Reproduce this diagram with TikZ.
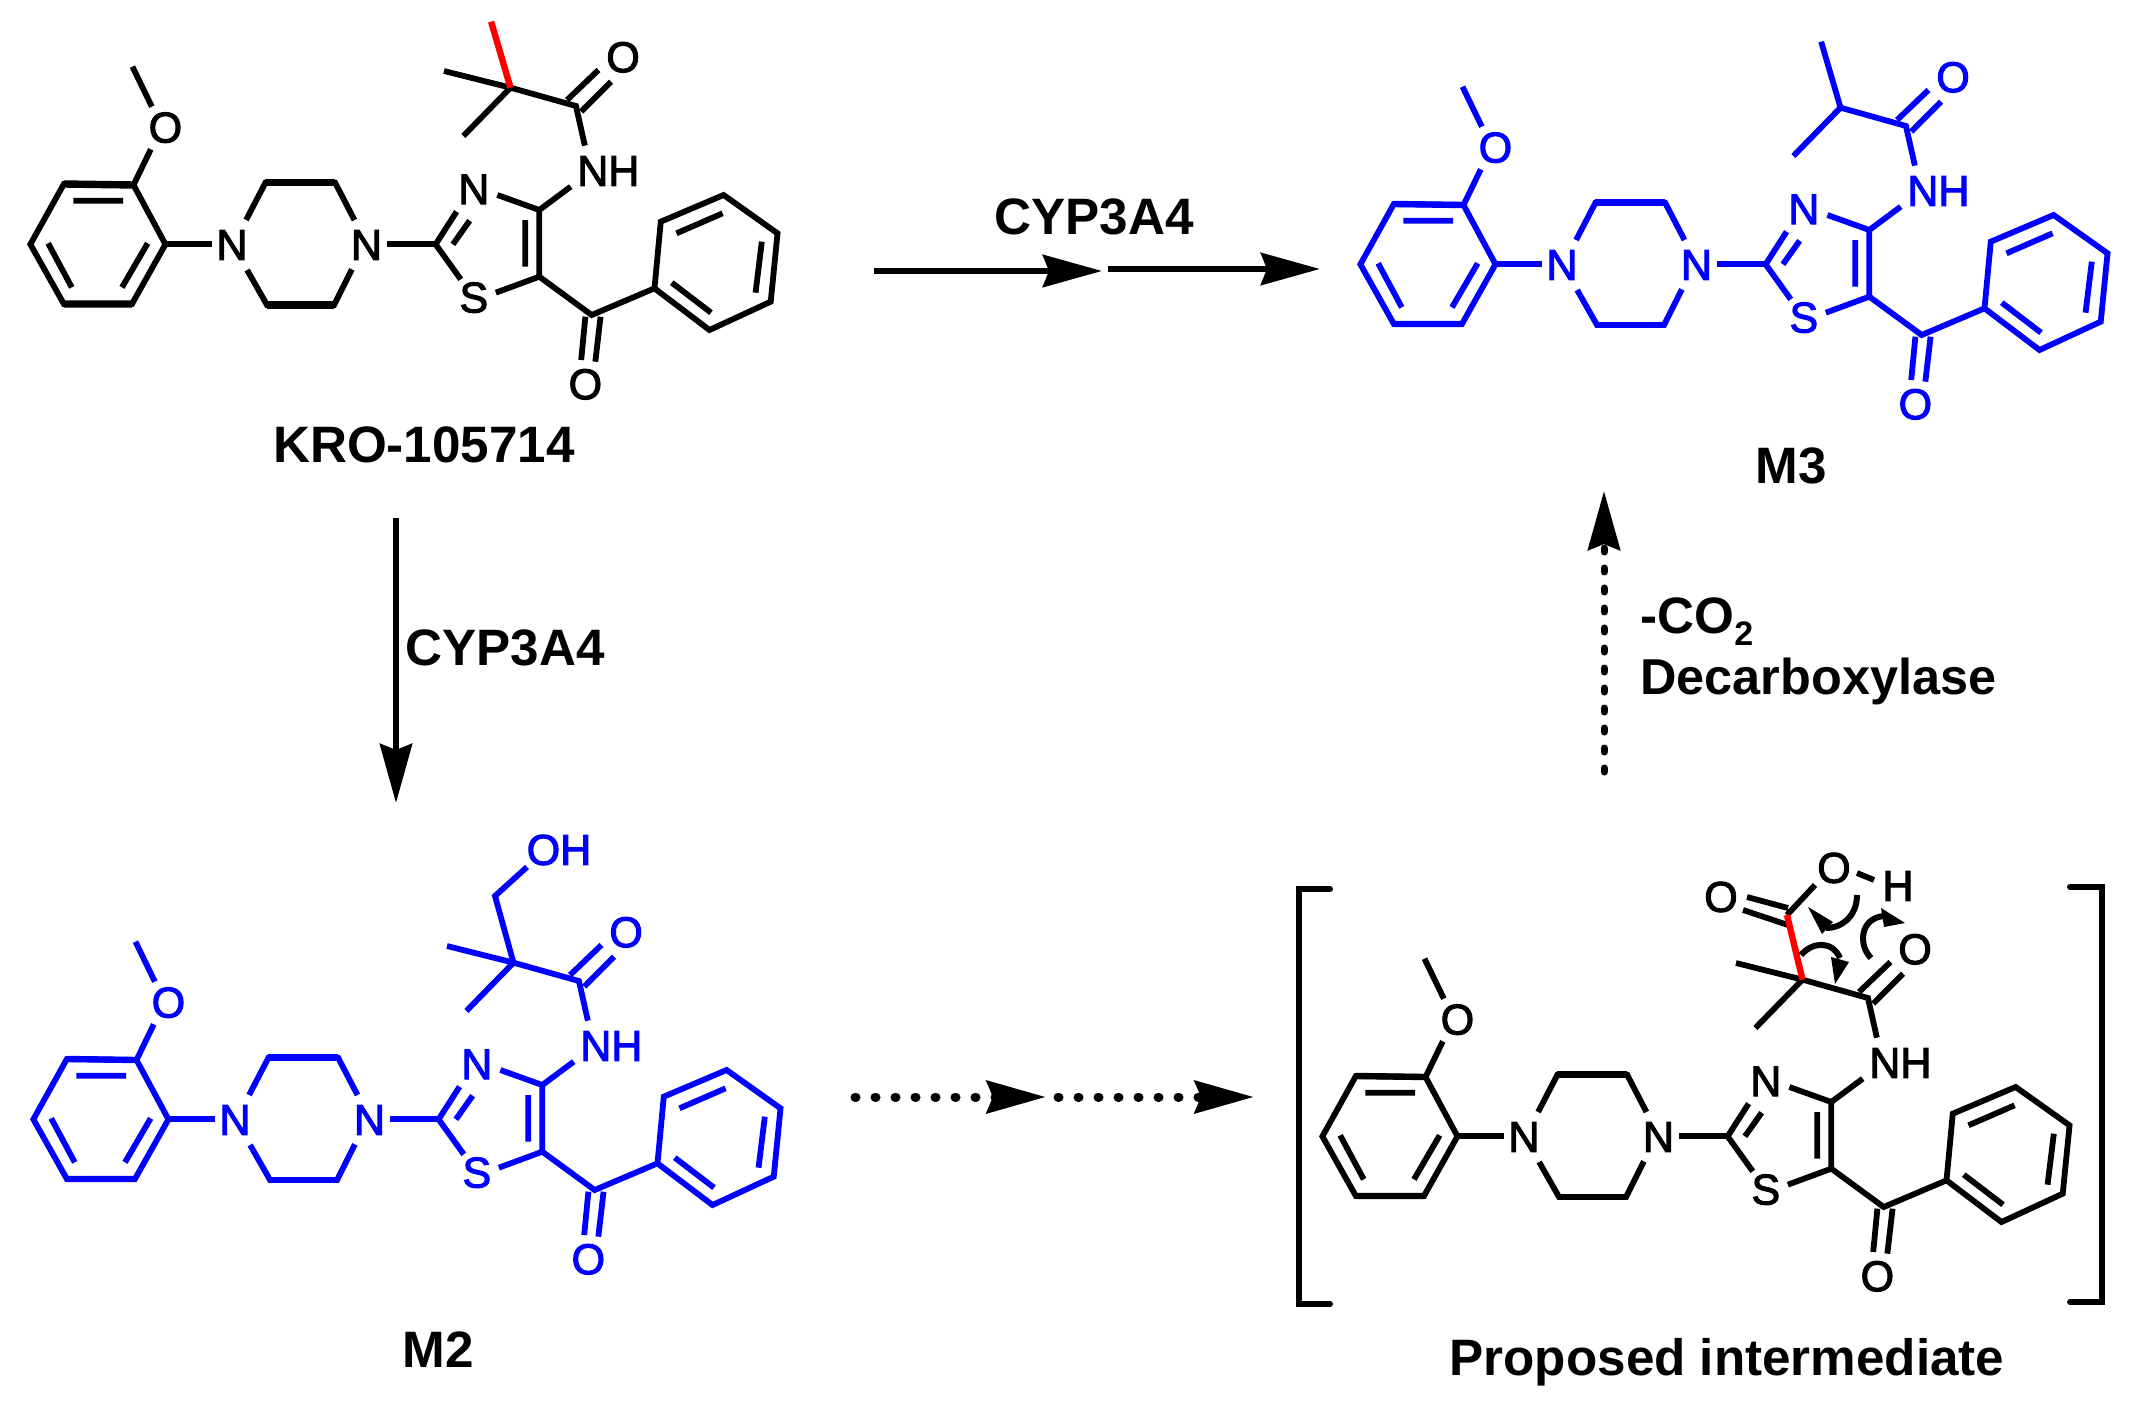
\documentclass[tikz,border=0pt]{standalone}
\usepackage{fontspec}
\setmainfont{Liberation Sans}
\newfontfamily\atomfont[FakeBold=2.5]{Liberation Sans}
\usetikzlibrary{arrows.meta}
\definecolor{molblue}{RGB}{0,0,255}
\definecolor{molred}{RGB}{255,0,0}
\tikzset{
  bond/.style={line width=2.9pt,line cap=butt,line join=miter},
  hbond/.style={line width=3.2pt},
  redbond/.style={line width=3.2pt,draw=molred},
  atom/.style={inner sep=0pt,font=\atomfont\fontsize{21.5}{21.5}\selectfont},
  lbl/.style={inner sep=0pt,anchor=base,font=\bfseries\fontsize{25.6}{25.6}\selectfont},
  rxn/.style={line width=3.3pt,-{Stealth[length=29.5pt,width=16pt,inset=3pt]}},
  dotrxn/.style={line width=4.5pt,line cap=round,dash pattern=on 0.5pt off 9.5pt,-{Stealth[length=29.5pt,width=16pt,inset=3pt]}},
  vdotrxn/.style={line width=3.5pt,line cap=round,dash pattern=on 2pt off 8pt,-{Stealth[length=29.5pt,width=16pt,inset=3pt]}},
  brk/.style={line width=3pt,line cap=round,line join=miter},
  curly/.style={line width=3pt,line cap=butt},
  coreunits/.style={x=0.2618pt,y=-0.16667pt}
}
\newcommand{\coremol}{%
  \path (253,200) coordinate (Me) (290,320) coordinate (Oa) (288,448) coordinate (Ob)
   (255,555) coordinate (A1) (122,552) coordinate (A2) (58,733) coordinate (A3)
   (122,912) coordinate (A4) (252,912) coordinate (A5) (316,733) coordinate (A6)
   (140,602) coordinate (Ia) (235,602) coordinate (Ib) (92,730) coordinate (Ic)
   (137,862) coordinate (Id) (282,730) coordinate (Ie) (233,862) coordinate (If)
   (405,733) coordinate (Na1) (470,660) coordinate (Nb) (507,548) coordinate (P1)
   (640,548) coordinate (P2) (677,660) coordinate (Nc) (672,808) coordinate (Nd)
   (638,915) coordinate (P3) (510,915) coordinate (P4) (472,810) coordinate (Ne)
   (740,733) coordinate (Nf) (832,733) coordinate (T2) (872,635) coordinate (Ta)
   (865,733) coordinate (Tg) (897,662) coordinate (Th) (880,838) coordinate (Sa)
   (950,585) coordinate (Tb) (1030,630) coordinate (T4) (1030,830) coordinate (T5)
   (947,878) coordinate (Sb) (1003,660) coordinate (Tc) (1003,800) coordinate (Td)
   (1090,560) coordinate (NHa) (1117,437) coordinate (NHb) (1100,318) coordinate (Cam)
   (975,263) coordinate (Cq) (885,408) coordinate (Mlow) (848,213) coordinate (Mleft)
   (938,65) coordinate (Mtop)
   (1083,300) coordinate (Da) (1143,210) coordinate (Db) (1110,335) coordinate (Dc) (1167,245) coordinate (Dd)
   (1130,945) coordinate (K) (1118,950) coordinate (Ka) (1110,1080) coordinate (Kb)
   (1147,950) coordinate (Kc) (1137,1085) coordinate (Kd)
   (1250,865) coordinate (B1) (1262,665) coordinate (B2) (1382,585) coordinate (B3)
   (1485,700) coordinate (B4) (1472,905) coordinate (B5) (1355,990) coordinate (B6)
   (1292,700) coordinate (Ig) (1380,640) coordinate (Ih) (1455,725) coordinate (Ii)
   (1443,878) coordinate (Ij) (1358,938) coordinate (Ik) (1283,848) coordinate (Il);
  \node[atom] (O1) at (316,383) {O};
  \node[atom] (Na) at (443,735) {N};
  \node[atom] (Nz) at (700,735) {N};
  \node[atom] (N3) at (905,568) {N};
  \node[atom] (S1) at (905,893) {S};
  \node[atom] (NH) at (1162,513) {NH};
  \node[atom] (O2) at (1190,172) {O};
  \node[atom] (O3) at (1118,1153) {O};
  \draw[bond] (Me)--(Oa) (Ob)--(A1);
  \draw[bond] (A1)--(A2)--(A3)--(A4)--(A5)--(A6)--cycle;
  \draw[bond,hbond] (A1)--(A2) (A4)--(A5);
  \draw[bond] (Ia)--(Ib) (Ic)--(Id) (Ie)--(If);
  \draw[bond] (A6)--(Na1);
  \draw[bond] (Nb)--(P1)--(P2)--(Nc) (Nd)--(P3)--(P4)--(Ne);
  \draw[bond,hbond] (P1)--(P2) (P3)--(P4);
  \draw[bond] (Nf)--(T2);
  \draw[bond] (Sa)--(T2)--(Ta) (Tg)--(Th);
  \draw[bond] (Tb)--(T4)--(T5)--(Sb) (Tc)--(Td);
  \draw[bond] (T4)--(NHa) (NHb)--(Cam)--(Cq)--(Mlow);
  \draw[bond] (Da)--(Db) (Dc)--(Dd);
  \draw[bond] (T5)--(K)--(B1) (Ka)--(Kb) (Kc)--(Kd);
  \draw[bond] (B1)--(B2)--(B3)--(B4)--(B5)--(B6)--cycle;
  \draw[bond] (Ig)--(Ih) (Ii)--(Ij) (Ik)--(Il);
}
\begin{document}
\begin{tikzpicture}[x=0.5pt,y=-0.5pt]
\useasboundingbox (0,0) rectangle (2131,1411);
% KRO-105714
\begin{scope}[name prefix=kro-,coreunits,hbond/.style={line width=3.7pt}]
  \coremol
  \draw[bond] (Cq)--(Mleft);
  \draw[bond,redbond] (Cq)--(Mtop);
\end{scope}
% M3
\begin{scope}[shift={(1330,20)},name prefix=m3-,coreunits,color=molblue]
  \coremol
  \draw[bond] (Cq)--(Mtop);
\end{scope}
% M2
\begin{scope}[shift={(3,875)},name prefix=m2-,coreunits,color=molblue]
  \coremol
  \draw[bond] (Cq)--(Mleft);
\end{scope}
\begin{scope}[color=molblue]
  \coordinate (ch2) at (495,896);
  \coordinate (oha) at (527,867);
  \node[atom] (OHb) at (559,850) {OH};
  \draw[bond] (m2-Cq)--(ch2)--(oha);
\end{scope}
% Proposed intermediate
\begin{scope}[shift={(1292,892)},name prefix=pi-,coreunits]
  \coremol
  \draw[bond] (Cq)--(Mleft);
\end{scope}
\coordinate (cc) at (1787,915);
\path (1747,897) coordinate (ea) (1788,908) coordinate (eb) (1743,910) coordinate (ec) (1788,925) coordinate (ed)
      (1815,885) coordinate (oa) (1857,873) coordinate (ob) (1874,880) coordinate (hb);
\node[atom] (Oc) at (1721,897) {O};
\node[atom] (Od) at (1834,868) {O};
\node[atom] (Hd) at (1898,886) {H};
\draw[bond] (ea)--(eb) (ec)--(ed) (cc)--(oa) (ob)--(hb);
\draw[bond,redbond] (pi-Cq)--(cc);
% curved electron arrows
\draw[curly] (1857,895) .. controls (1857,915) and (1843,928) .. (1826,928);
\fill (1808,907)--(1833,922)--(1822,934)--cycle;
\draw[curly] (1871,958) .. controls (1858,945) and (1860,918) .. (1884,916);
\fill (1905,923)--(1881,908)--(1884,927)--cycle;
\draw[curly] (1801,955) .. controls (1812,942) and (1832,940) .. (1840,958);
\fill (1835,984)--(1831,957)--(1849,962)--cycle;
% brackets
\path (1330,889) coordinate (bl1) (1299,889) coordinate (bl2) (1299,1304) coordinate (bl3) (1330,1304) coordinate (bl4)
      (2070,887) coordinate (br1) (2102,887) coordinate (br2) (2102,1302) coordinate (br3) (2070,1302) coordinate (br4);
\draw[brk] (bl1)--(bl2)--(bl3)--(bl4);
\draw[brk] (br1)--(br2)--(br3)--(br4);
% reaction arrows
\path (874,271) coordinate (r1a) (1102,271) coordinate (r1b) (1108,269) coordinate (r2a) (1320,269) coordinate (r2b)
      (396,518) coordinate (r3a) (396,803) coordinate (r3b)
      (855,1097) coordinate (r4a) (1046,1097) coordinate (r4b) (1058,1097) coordinate (r5a) (1254,1097) coordinate (r5b)
      (1604,772) coordinate (r6a) (1604,491) coordinate (r6b);
\draw[rxn] (r1a)--(r1b);
\draw[rxn] (r2a)--(r2b);
\draw[rxn] (r3a)--(r3b);
\draw[dotrxn] (r4a)--(r4b);
\draw[dotrxn] (r5a)--(r5b);
\draw[vdotrxn] (r6a)--(r6b);
% labels
\node[lbl] (lkro) at (424,463) {KRO-105714};
\node[lbl] (lm3) at (1791,484) {M3};
\node[lbl] (lm2) at (438,1367) {M2};
\node[lbl] (lpi) at (1727,1375) {Proposed intermediate};
\node[lbl] (lcyp1) at (1094,235) {CYP3A4};
\node[lbl] (lcyp2) at (505,666) {CYP3A4};
\node[lbl,anchor=base west] (lco) at (1640,633) {-CO\raisebox{-6pt}{\fontsize{17}{17}\selectfont 2}};
\node[lbl,anchor=base west,font=\bfseries\fontsize{25.2}{25.2}\selectfont] (ldec) at (1640,694) {Decarboxylase};
\end{tikzpicture}
\end{document}
